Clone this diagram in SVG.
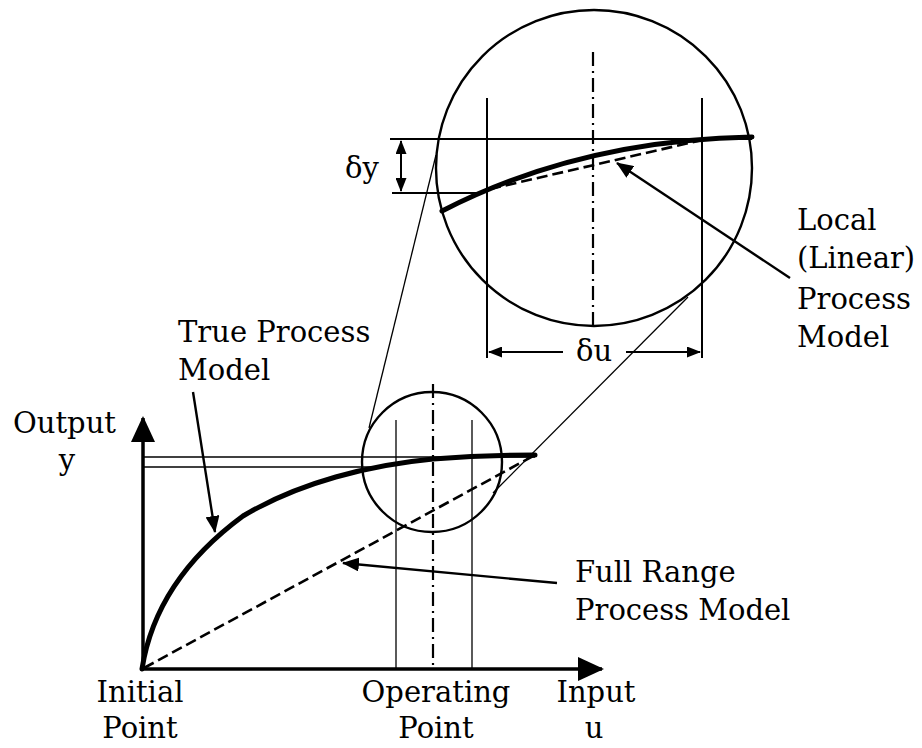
<svg xmlns="http://www.w3.org/2000/svg" width="922" height="748" viewBox="0 0 922 748">
<style>
text{font-family:"DejaVu Serif","Liberation Serif",serif;font-size:29px;fill:#000}
.thin{stroke:#000;stroke-width:1.3;fill:none}
.med{stroke:#000;stroke-width:2;fill:none}
.circ{stroke:#000;stroke-width:2.4;fill:none}
.thick{stroke:#000;stroke-width:5;fill:none;stroke-linecap:round}
.axis{stroke:#000;stroke-width:3.5;fill:none}
.dash{stroke:#000;stroke-width:2.6;fill:none;stroke-dasharray:11 5}
.dashdot{stroke:#000;stroke-width:2.2;fill:none;stroke-dasharray:14 5 2 5}
.arr{stroke:#000;stroke-width:2.4;fill:none}
</style>
<defs>
<marker id="axisHead" viewBox="0 0 26 24" markerWidth="26" markerHeight="24" refX="24" refY="12" orient="auto" markerUnits="userSpaceOnUse"><path d="M0,0 L26,12 L0,24 Z" fill="#000"/></marker>
<marker id="annHead" viewBox="0 0 17 14" markerWidth="17" markerHeight="14" refX="16" refY="7" orient="auto" markerUnits="userSpaceOnUse"><path d="M0,0 L17,7 L0,14 Z" fill="#000"/></marker>
<marker id="dimHead" viewBox="0 0 14 11" markerWidth="14" markerHeight="11" refX="13" refY="5.5" orient="auto-start-reverse" markerUnits="userSpaceOnUse"><path d="M0,0 L14,5.5 L0,11 Z" fill="#000"/></marker>
</defs>

<g id="magnified-view">
  <circle class="circ" cx="594" cy="168" r="158"/>
  <line class="med" x1="390" y1="139" x2="752" y2="139"/>
  <line class="med" x1="392" y1="193" x2="482" y2="193"/>
  <line class="med" x1="487" y1="98" x2="487" y2="358"/>
  <line class="med" x1="702" y1="98" x2="702" y2="358"/>
  <line class="dashdot" x1="593" y1="52" x2="593" y2="325"/>
  <path class="thick" d="M442,211 Q580,140 752,137"/>
  <line class="dash" x1="490" y1="189" x2="702" y2="140"/>
</g>

<g id="dy-dimension">
  <line class="med" x1="401" y1="141" x2="401" y2="191" marker-start="url(#dimHead)" marker-end="url(#dimHead)"/>
  <text x="345" y="178">δy</text>
</g>

<g id="du-dimension">
  <line class="med" x1="489" y1="352" x2="563" y2="352" marker-start="url(#dimHead)"/>
  <line class="med" x1="626" y1="352" x2="700" y2="352" marker-end="url(#dimHead)"/>
  <text x="594" y="361" text-anchor="middle">δu</text>
</g>

<g id="axes">
  <line class="axis" x1="143" y1="670" x2="143" y2="418" marker-end="url(#axisHead)"/>
  <line class="axis" x1="142" y1="669" x2="602" y2="669" marker-end="url(#axisHead)"/>
</g>

<g id="main-plot">
  <line class="thin" x1="143" y1="457" x2="535" y2="457"/>
  <line class="thin" x1="143" y1="467" x2="378" y2="467"/>
  <circle class="circ" cx="432" cy="462" r="70"/>
  <line class="thin" x1="396" y1="420" x2="396" y2="669"/>
  <line class="thin" x1="472" y1="420" x2="472" y2="669"/>
  <line class="dashdot" x1="433" y1="384" x2="433" y2="669"/>
  <path class="thick" d="M142,669 C152,605 190,555 243,516 C300,482 370,465 433,459 C470,456 505,455 535,455"/>
  <line class="dash" x1="144" y1="668" x2="535" y2="455"/>
</g>

<g id="connectors">
  <line class="thin" x1="369" y1="428" x2="436" y2="155"/>
  <line class="thin" x1="493" y1="493" x2="688" y2="297"/>
  <line class="arr" x1="193" y1="392" x2="215" y2="532" marker-end="url(#annHead)"/>
  <line class="arr" x1="557" y1="583" x2="343" y2="563" marker-end="url(#annHead)"/>
  <line class="arr" x1="790" y1="278" x2="617" y2="163" marker-end="url(#annHead)"/>
</g>

<g id="label-output"><text x="13" y="433">Output</text><text x="67" y="470" text-anchor="middle">y</text></g>
<g id="label-true"><text x="178" y="342">True Process</text><text x="178" y="380">Model</text></g>
<g id="label-local"><text x="797" y="230">Local</text><text x="797" y="268">(Linear)</text><text x="797" y="309">Process</text><text x="797" y="347">Model</text></g>
<g id="label-full"><text x="575" y="582">Full Range</text><text x="575" y="620">Process Model</text></g>
<g id="label-initial"><text x="140" y="702" text-anchor="middle">Initial</text><text x="140" y="738" text-anchor="middle">Point</text></g>
<g id="label-operating"><text x="436" y="702" text-anchor="middle">Operating</text><text x="436" y="738" text-anchor="middle">Point</text></g>
<g id="label-input"><text x="596" y="702" text-anchor="middle">Input</text><text x="594" y="738" text-anchor="middle">u</text></g>
</svg>
